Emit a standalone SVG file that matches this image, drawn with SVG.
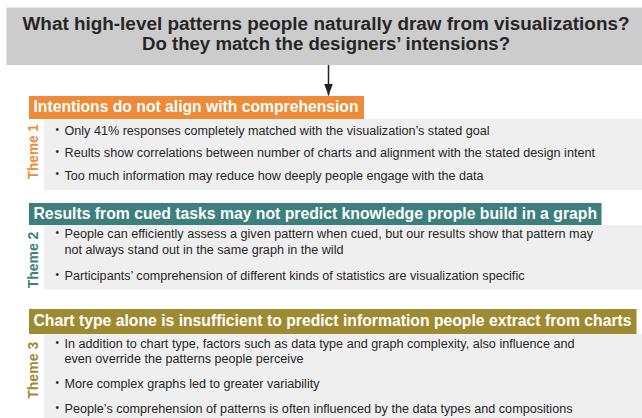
<svg xmlns="http://www.w3.org/2000/svg" width="642" height="418" viewBox="0 0 642 418">
  <defs>
    <marker id="arrowhead" viewBox="0 0 12 9" refX="12" refY="4.5" markerWidth="12" markerHeight="9" markerUnits="userSpaceOnUse" orient="auto">
      <path d="M0,0 L12,4.5 L0,9 Z" fill="#222222"/>
    </marker>
    <style>
      text { font-family: "Liberation Sans", Arial, sans-serif; }
      .title { font-size: 18px; font-weight: bold; fill: #262626; text-anchor: middle; }
      .head { font-size: 16px; font-weight: bold; fill: #ffffff; }
      .theme { font-size: 14px; font-weight: bold; text-anchor: middle; }
      .body { font-size: 12.5px; fill: #262626; }
      .dot { font-size: 10px; fill: #262626; }
      .panel { fill: #efefef; }
      .c1 { fill: #ef8a38; }
      .c2 { fill: #3c7f7c; }
      .c3 { fill: #9e8a31; }
      .conn { stroke: #222222; stroke-width: 1.5; fill: none; }
    </style>
  </defs>

  <rect width="642" height="418" fill="#ffffff"/>

  <g id="question">
    <rect x="6.5" y="7.5" width="636" height="57.5" fill="#cccccc"/>
    <text class="title" x="326" y="30" textLength="607" lengthAdjust="spacingAndGlyphs">What high-level patterns people naturally draw from visualizations?</text>
    <text class="title" x="326" y="50" textLength="368" lengthAdjust="spacingAndGlyphs">Do they match the designers’ intensions?</text>
  </g>

  <g id="connectors">
    <line class="conn" x1="328.5" y1="65" x2="328.5" y2="95.5" marker-end="url(#arrowhead)"/>
  </g>

  <g id="theme1">
    <rect class="panel" x="44" y="119" width="598" height="71"/>
    <rect class="c1" x="29" y="96" width="335" height="23"/>
    <text class="head" x="33.5" y="112" textLength="325" lengthAdjust="spacingAndGlyphs">Intentions do not align with comprehension</text>
    <text class="theme c1" transform="translate(37.5,151.7) rotate(-90)" textLength="55" lengthAdjust="spacingAndGlyphs">Theme 1</text>
    <text class="dot" x="55.5" y="132.5">•</text>
    <text class="body" x="64.5" y="135" textLength="425" lengthAdjust="spacingAndGlyphs">Only 41% responses completely matched with the visualization’s stated goal</text>
    <text class="dot" x="55.5" y="154.5">•</text>
    <text class="body" x="64.5" y="157" textLength="530.5" lengthAdjust="spacingAndGlyphs">Reults show correlations between number of charts and alignment with the stated design intent</text>
    <text class="dot" x="55.5" y="177">•</text>
    <text class="body" x="64.5" y="179.5" textLength="419" lengthAdjust="spacingAndGlyphs">Too much information may reduce how deeply people engage with the data</text>
  </g>

  <g id="theme2">
    <rect class="panel" x="44" y="225" width="598" height="64.5"/>
    <rect class="c2" x="29" y="203" width="572.5" height="22"/>
    <text class="head" x="33.5" y="218.5" textLength="563.5" lengthAdjust="spacingAndGlyphs">Results from cued tasks may not predict knowledge prople build in a graph</text>
    <text class="theme c2" transform="translate(37.5,260) rotate(-90)" textLength="56.5" lengthAdjust="spacingAndGlyphs">Theme 2</text>
    <text class="dot" x="55.5" y="235.5">•</text>
    <text class="body" x="64.5" y="238" textLength="528.5" lengthAdjust="spacingAndGlyphs">People can efficiently assess a given pattern when cued, but our results show that pattern may</text>
    <text class="body" x="64.5" y="253.5" textLength="279" lengthAdjust="spacingAndGlyphs">not always stand out in the same graph in the wild</text>
    <text class="dot" x="55.5" y="277.5">•</text>
    <text class="body" x="64.5" y="280" textLength="460" lengthAdjust="spacingAndGlyphs">Participants’ comprehension of different kinds of statistics are visualization specific</text>
  </g>

  <g id="theme3">
    <rect class="panel" x="44" y="334" width="598" height="84"/>
    <rect class="c3" x="29" y="309" width="607.5" height="25"/>
    <text class="head" x="33.5" y="326" textLength="598" lengthAdjust="spacingAndGlyphs">Chart type alone is insufficient to predict information people extract from charts</text>
    <text class="theme c3" transform="translate(37.5,370.3) rotate(-90)" textLength="57" lengthAdjust="spacingAndGlyphs">Theme 3</text>
    <text class="dot" x="55.5" y="345.8">•</text>
    <text class="body" x="64.5" y="348.3" textLength="510" lengthAdjust="spacingAndGlyphs">In addition to chart type, factors such as data type and graph complexity, also influence and</text>
    <text class="body" x="64.5" y="363.3" textLength="239" lengthAdjust="spacingAndGlyphs">even override the patterns people perceive</text>
    <text class="dot" x="55.5" y="385.8">•</text>
    <text class="body" x="64.5" y="388.3" textLength="255" lengthAdjust="spacingAndGlyphs">More complex graphs led to greater variability</text>
    <text class="dot" x="55.5" y="410.8">•</text>
    <text class="body" x="64.5" y="413.3" textLength="508" lengthAdjust="spacingAndGlyphs">People’s comprehension of patterns is often influenced by the data types and compositions</text>
  </g>
</svg>
